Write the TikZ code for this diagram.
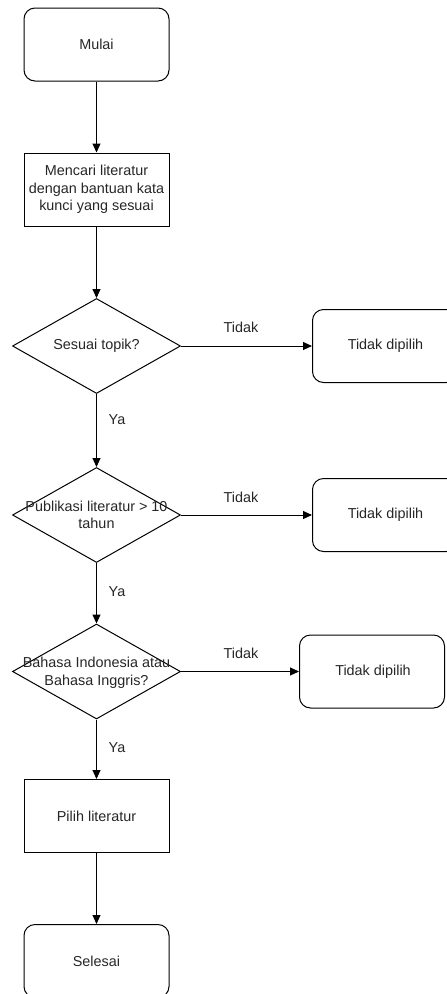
\documentclass[tikz,border=0pt]{standalone}
\usepackage{fontspec}
\setmainfont{Liberation Sans}
\usetikzlibrary{shapes.geometric,arrows.meta}
\begin{document}
\begin{tikzpicture}[x=1pt,y=-1pt,
  every node/.style={font=\fontsize{14.4}{17.5}\selectfont, text=black!85},
  term/.style={draw, rounded corners=11pt, minimum width=145pt, minimum height=73pt, inner sep=0pt, line width=1pt},
  proc/.style={draw, minimum width=145pt, minimum height=73pt, inner sep=0pt, line width=1pt, align=center},
  dia/.style={draw, diamond, minimum width=168pt, minimum height=95pt, inner sep=0pt, line width=1pt},
  lbl/.style={inner sep=0pt, align=center},
  conn/.style={line width=1pt, -{Triangle[length=9pt,width=8pt]}}
]
\useasboundingbox (0,0) rectangle (447,994);
\clip (0,0) rectangle (447,994);
\node[term] (mulai) at (96.5,44.5) {Mulai};
\node[proc] (cari) at (96.5,189.5) {Mencari literatur\\dengan bantuan kata\\kunci yang sesuai};
\node[dia] (d1) at (96.5,346) {};
\node[lbl] (d1l) at (d1) {Sesuai topik?};
\node[term] (t1) at (385,346) {};
\node[lbl] (t1l) at (385.5,346) {Tidak dipilih};
\node[dia] (d2) at (96.5,515) {};
\node[lbl] (d2l) at (96.5,515) {Publikasi literatur > 10\\tahun};
\node[term] (t2) at (385,515) {};
\node[lbl] (t2l) at (385.5,515) {Tidak dipilih};
\node[dia] (d3) at (96.5,671.5) {};
\node[lbl] (d3l) at (96.5,673) {Bahasa Indonesia atau\\Bahasa Inggris?};
\node[term] (t3) at (372,671.5) {};
\node[lbl] (t3l) at (373,671.5) {Tidak dipilih};
\node[proc] (pilih) at (96.5,816) {Pilih literatur};
\node[term] (selesai) at (96.5,961) {Selesai};
\draw[conn] (mulai) -- (cari);
\draw[conn] (cari) -- (d1);
\draw[conn] (d1) -- (d2);
\draw[conn] (d2) -- (d3);
\draw[conn] (d3) -- (pilih);
\draw[conn] (pilih) -- (selesai);
\draw[conn] (d1.east) -- (t1.west);
\draw[conn] (d2.east) -- (t2.west);
\draw[conn] (d3.east) -- (t3.west);
\node[lbl] (n1) at (241,327) {Tidak};
\node[lbl] (n2) at (241,497) {Tidak};
\node[lbl] (n3) at (241,653) {Tidak};
\node[lbl] (y1) at (117,420) {Ya};
\node[lbl] (y2) at (117,592) {Ya};
\node[lbl] (y3) at (117,748) {Ya};
\end{tikzpicture}
\end{document}
